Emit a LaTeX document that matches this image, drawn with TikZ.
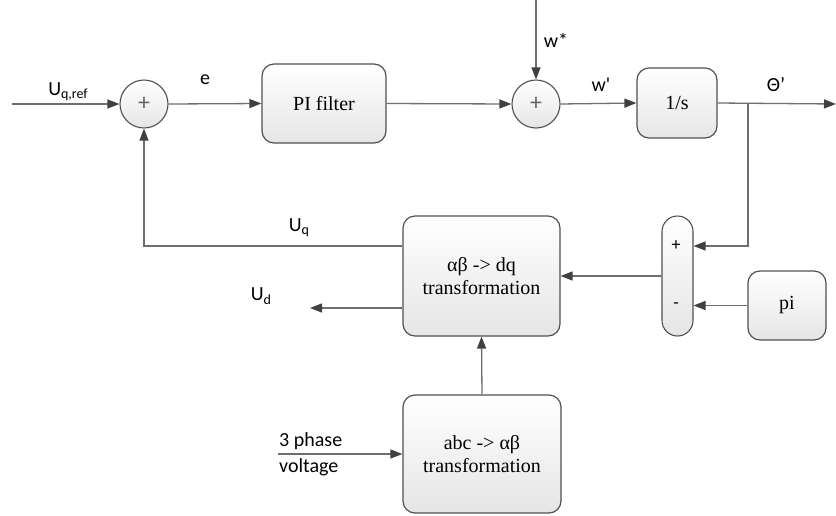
\documentclass[tikz,border=0pt]{standalone}
\usepackage{fontspec}
\setmainfont{Liberation Serif}
\newfontfamily\lbl{Carlito}
\usetikzlibrary{arrows.meta,calc}
\definecolor{edge}{HTML}{505050}
\definecolor{wire}{HTML}{6E6E6E}
\definecolor{tipc}{HTML}{404040}
\newcommand{\lsub}[1]{\raisebox{-0.35ex}{\fontsize{14}{14}\selectfont #1}}
\tikzset{
  blk/.style={draw=edge, line width=1.2pt, rounded corners=12pt, top color=white, bottom color=black!10,
    font=\fontsize{20}{23}\selectfont, align=center, inner sep=0pt},
  sumc/.style={circle, draw=edge, line width=1.1pt, top color=white, bottom color=black!10,
    minimum size=48pt, inner sep=0pt, font=\lbl\fontsize{24}{24}\selectfont, text=black!60},
  wr/.style={draw=wire, line width=1.3pt},
  arr/.style={wr, -{Triangle[length=12pt,width=9pt,color=tipc]}},
  lab/.style={font=\lbl\fontsize{20}{22}\selectfont, inner sep=0pt},
}
\begin{document}
\begin{tikzpicture}[x=1pt,y=-1pt]
\useasboundingbox (0,0) rectangle (836,515);
% blocks
\node[sumc] (s1) at (144,104) {+};
\node[blk, minimum width=124pt, minimum height=79pt] (pif) at (324,103.5) {PI filter};
\node[sumc] (s2) at (536,104) {+};
\node[blk, minimum width=80pt, minimum height=70pt] (int) at (677,103) {1/s};
\node[draw=edge, line width=1.1pt, rounded corners=15.5pt, top color=white, bottom color=black!10,
  minimum width=31pt, minimum height=120pt, inner sep=0pt] (pill) at (677.5,276) {};
\node[lab, font=\lbl\fontsize{18}{18}\selectfont] (pplus) at (676,246) {+};
\node[lab, font=\lbl\fontsize{18}{18}\selectfont] (pminus) at (676,306) {-};
\node[blk, minimum width=78pt, minimum height=69pt] (pic) at (787,305.5) {pi};
\node[blk, minimum width=157pt, minimum height=120pt] (dq) at (481.5,276) {αβ -> dq\\transformation};
\node[blk, minimum width=158pt, minimum height=118pt] (abc) at (482,454) {abc -> αβ\\transformation};
% coordinates
\coordinate (in) at (12,104);
\coordinate (wtop) at (536,0);
\coordinate (out) at (836,104);
\coordinate (br) at (748,104);
\coordinate (udend) at (310,308);
\coordinate (ph) at (278,454);
% connectors
\draw[arr] (in) -- (s1.west);
\draw[arr] (s1.east) -- (pif.west);
\draw[arr] (pif.east) -- (s2.west);
\draw[arr] (wtop) -- (s2.north);
\draw[arr] (s2.east) -- (int.west);
\draw[arr] (int.east) -- (out);
\draw[arr] (br) |- (pill.east |- pplus);
\draw[arr] (pic.west) -- (pic.west -| pill.east);
\draw[arr] (pill.west) -- (dq.east);
\draw[arr] (dq.west |- 0,246) -| (s1.south);
\draw[arr] (dq.west |- udend) -- (udend);
\draw[arr] (abc.north) -- (dq.south);
\draw[arr] (ph) -- (abc.west);
% labels
\node[lab] (lref) at (68,92) {U\lsub{q,ref}};
\node[lab] (le) at (205,80) {e};
\node[lab] (lw) at (556,40) {w*};
\node[lab] (lwp) at (601,85) {w'};
\node[lab] (lth) at (776,85) {Θ’};
\node[lab] (luq) at (299,228) {U\lsub{q}};
\node[lab] (lud) at (261,296) {U\lsub{d}};
\node[lab, align=left, anchor=west, font=\lbl\fontsize{20}{26}\selectfont] (l3) at (279,454) {3 phase\\voltage};
\end{tikzpicture}
\end{document}
